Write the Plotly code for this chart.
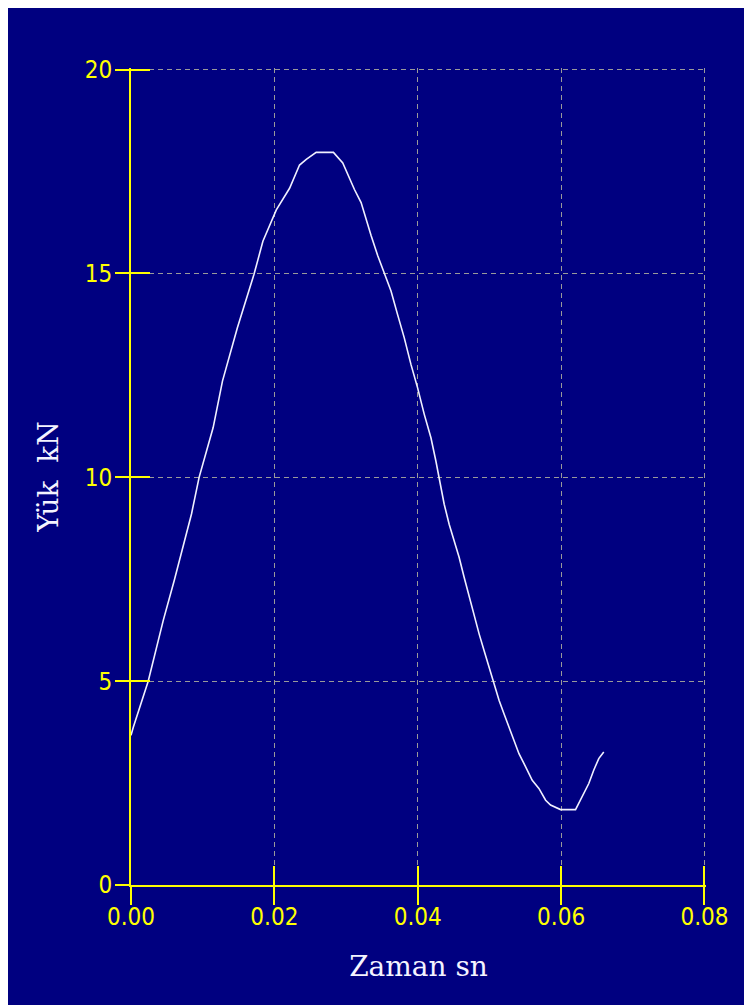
import plotly.graph_objects as go

# Time (s) and load (kN)
zaman = [0.0, 0.00032, 0.0024, 0.0031, 0.0045, 0.00603, 0.00728, 0.00844, 0.0095,
         0.01146, 0.01276, 0.01484, 0.01716, 0.0184, 0.02027, 0.02212, 0.02351,
         0.02445, 0.02583, 0.02824, 0.02954, 0.03023, 0.03117, 0.0321, 0.03256,
         0.03349, 0.03441, 0.03534, 0.03627, 0.03719, 0.03812, 0.03905, 0.03997,
         0.0409, 0.04184, 0.04253, 0.04299, 0.04369, 0.04438, 0.04508, 0.04577,
         0.04647, 0.04717, 0.04786, 0.04856, 0.04925, 0.04995, 0.05064, 0.05134,
         0.05203, 0.05273, 0.05343, 0.05412, 0.05505, 0.05597, 0.0569, 0.05784,
         0.05853, 0.05992, 0.06201, 0.06293, 0.06386, 0.06456, 0.06525, 0.06595]
yuk = [3.67, 3.87, 5.0, 5.51, 6.49, 7.47, 8.28, 9.1, 10.0,
       11.22, 12.36, 13.67, 14.98, 15.79, 16.56, 17.09, 17.66,
       17.80, 17.97, 17.97, 17.71, 17.42, 17.06, 16.74, 16.45,
       15.93, 15.44, 15.01, 14.57, 13.99, 13.42, 12.77, 12.20,
       11.55, 10.97, 10.40, 9.99, 9.34, 8.85, 8.45, 8.04,
       7.55, 7.06, 6.65, 6.16, 5.75, 5.34, 4.99, 4.53,
       4.20, 3.87, 3.55, 3.22, 2.90, 2.57, 2.37, 2.08,
       1.96, 1.85, 1.85, 2.16, 2.49, 2.82, 3.10, 3.26]

x_ticks = [0.0, 0.02, 0.04, 0.06, 0.08]
x_labels = ["0.00", "0.02", "0.04", "0.06", "0.08"]
y_ticks = [0, 5, 10, 15, 20]
y_labels = ["0", "5", "10", "15", "20"]

x_title = "Zaman sn"
y_title = "Yük  kN"

# axis ranges: a hair past the last tick so that the edge grid lines and ticks are kept
x_range = [0, 0.08021]
y_range = [0, 20.04]

BG = "#000080"
YEL = "#FFFF00"
GRID = "#9A9A9A"
TXT = "#F4F4FF"
tick_font = dict(family="Liberation Sans Narrow, DejaVu Sans Condensed, sans-serif", size=24, color=YEL)
title_font = dict(family="DejaVu Serif, serif", size=28, color=TXT)

fig = go.Figure()
fig.add_trace(go.Scatter(x=zaman, y=yuk, mode="lines",
                         line=dict(color="#F0F0FF", width=1.6),
                         hoverinfo="skip", showlegend=False))
# helper trace to register the overlay axes (for the inner tick halves)
fig.add_trace(go.Scatter(x=[zaman[0]], y=[yuk[0]], xaxis="x2", yaxis="y2",
                         mode="markers", marker=dict(opacity=0), showlegend=False,
                         hoverinfo="skip"))

common = dict(showline=True, linecolor=YEL, linewidth=2, zeroline=False,
              tickcolor=YEL, tickwidth=2)

fig.update_layout(
    width=752, height=1005,
    paper_bgcolor=BG, plot_bgcolor=BG,
    margin=dict(l=123, r=54, t=60, b=128),
    xaxis=dict(range=x_range, tickvals=x_ticks, ticktext=x_labels,
               ticks="outside", ticklen=18, tickfont=tick_font, ticklabelstandoff=-9,
               showgrid=True, gridcolor=GRID, gridwidth=1, griddash="5px,4px",
               title=dict(text=x_title, font=title_font, standoff=27),
               anchor="y", **common),
    yaxis=dict(range=y_range, tickvals=y_ticks, ticktext=y_labels,
               ticks="outside", ticklen=14, tickfont=tick_font, ticklabelstandoff=-2,
               showgrid=True, gridcolor=GRID, gridwidth=1, griddash="5px,4px",
               title=dict(text=y_title, font=title_font, standoff=18),
               anchor="x", **common),
    xaxis2=dict(range=x_range, tickvals=x_ticks, overlaying="x", anchor="y2",
                ticks="inside", ticklen=19, showticklabels=False, showgrid=False,
                side="bottom", **common),
    yaxis2=dict(range=y_range, tickvals=y_ticks, overlaying="y", anchor="x2",
                ticks="inside", ticklen=19, showticklabels=False, showgrid=False,
                side="left", **common),
)

fig.write_html("out.html")
